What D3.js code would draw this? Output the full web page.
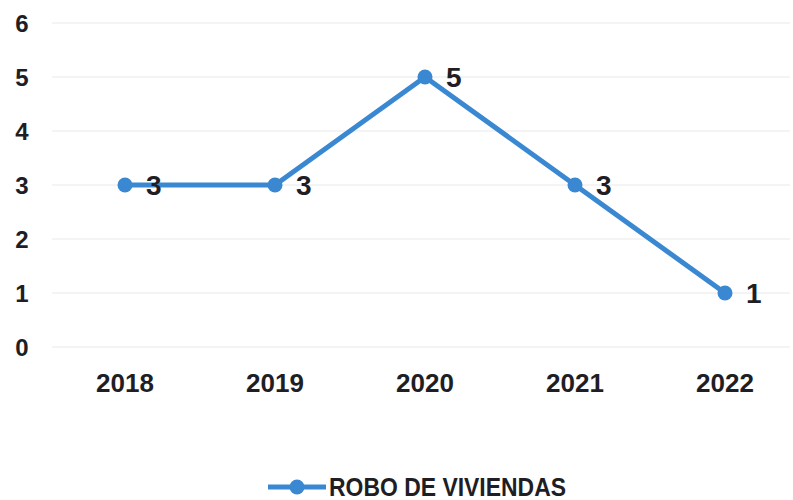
<!DOCTYPE html>
<html><head><meta charset="utf-8">
<script src="https://cdn.jsdelivr.net/npm/d3@7"></script>
<style>body{margin:0;background:#fff}svg{display:block}text{font-family:"Liberation Sans",Arial,sans-serif;font-weight:bold;fill:#1e1e24}</style>
</head><body><svg id="c" width="793" height="500"></svg>
<script>
const years = ["2018","2019","2020","2021","2022"];
const values = [3,3,5,3,1];
const yTicks = [0,1,2,3,4,5,6];
const seriesName = "ROBO DE VIVIENDAS";

const svg = d3.select("#c");
const x = d3.scaleBand().domain(years).range([50,800]);
const y = d3.scaleLinear().domain([0,6]).range([347,23]);
const color = "#3a88d2";

// gridlines
svg.append("g").selectAll("line").data(yTicks).join("line")
  .attr("x1",52).attr("x2",790).attr("y1",d=>y(d)).attr("y2",d=>y(d))
  .attr("stroke","#f0f0f0").attr("stroke-width",1.5);

// y axis labels
const yAxis = d3.axisLeft(y).tickValues(yTicks).tickFormat(d3.format("d")).tickSize(0).tickPadding(0);
const gy = svg.append("g").attr("transform","translate(22,0)").call(yAxis);
gy.select(".domain").remove();
gy.selectAll("text").attr("text-anchor","middle").attr("font-size",24).attr("dy","0.36em")
  .attr("font-family","Liberation Sans, Arial").attr("font-weight","bold").attr("fill","#1e1e24");

// x axis labels
const xAxis = d3.axisBottom(x).tickSize(0).tickPadding(0);
const gx = svg.append("g").attr("transform","translate(0,374)").call(xAxis);
gx.select(".domain").remove();
gx.selectAll("text").attr("font-size",26).attr("dy","0.71em")
  .attr("font-family","Liberation Sans, Arial").attr("font-weight","bold").attr("fill","#1e1e30");

const cx = d => x(d) + x.bandwidth()/2;
const line = d3.line().x((d,i)=>cx(years[i])).y(d=>y(d));
svg.append("path").datum(values).attr("d",line).attr("fill","none")
  .attr("stroke",color).attr("stroke-width",5).attr("stroke-linejoin","round");
svg.append("g").selectAll("circle").data(values).join("circle")
  .attr("cx",(d,i)=>cx(years[i])).attr("cy",d=>y(d)).attr("r",7.5).attr("fill",color);
svg.append("g").selectAll("text").data(values).join("text")
  .attr("x",(d,i)=>cx(years[i])+21).attr("y",d=>y(d)).attr("dy","0.36em")
  .attr("font-size",28).text(d=>d);

// legend
const lg = svg.append("g");
lg.append("line").attr("x1",268).attr("x2",326).attr("y1",487).attr("y2",487)
  .attr("stroke",color).attr("stroke-width",5);
lg.append("circle").attr("cx",297).attr("cy",487).attr("r",7.5).attr("fill",color);
lg.append("text").attr("x",329).attr("y",496).attr("font-size",25)
  .attr("textLength",237).attr("lengthAdjust","spacingAndGlyphs").text(seriesName);
</script></body></html>
